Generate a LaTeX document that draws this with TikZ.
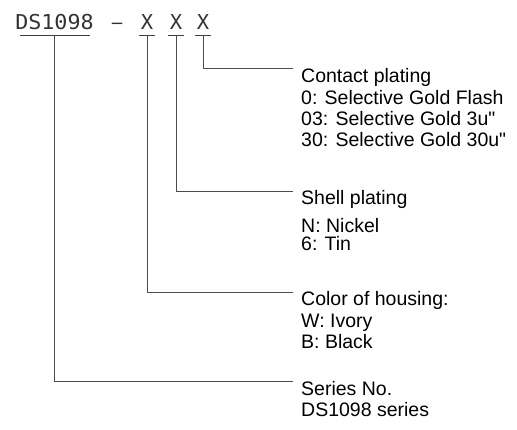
\documentclass[tikz,border=0pt]{standalone}
\usepackage{fontspec}
\setmainfont{Liberation Sans}[Ligatures=TeXOff]
\newfontfamily\monofnt{DejaVu Sans Mono}
\begin{document}
\begin{tikzpicture}[x=1pt,y=1pt,
  lbl/.style={anchor=base west,inner sep=0pt,font=\fontsize{19.5}{21}\selectfont,text=black},
  code/.style={anchor=base,inner sep=0pt,font=\monofnt\fontsize{20.5}{22}\selectfont,text=black!80},
  uline/.style={draw=black!75,line width=0.9pt},
  conn/.style={draw=black!70,line width=1pt}]
\useasboundingbox (0,0) rectangle (517,430);
% code
\node[code] (ds) at (54.5,400) {\scalebox{1.06}[1]{DS1098}};
\node[code] (dash) at (117,400) {\scalebox{0.85}[1]{\symbol{"2013}}};
\node[code] (x1) at (147,400) {X};
\node[code] (x2) at (176,400) {X};
\node[code] (x3) at (203,400) {X};
% underlines
\draw[uline] ([xshift=-35pt,yshift=-5pt]ds.base) -- ([xshift=35pt,yshift=-5pt]ds.base);
\draw[uline] ([xshift=-8pt,yshift=-5pt]x1.base) -- ([xshift=8pt,yshift=-5pt]x1.base);
\draw[uline] ([xshift=-8pt,yshift=-5pt]x2.base) -- ([xshift=8pt,yshift=-5pt]x2.base);
\draw[uline] ([xshift=-8pt,yshift=-5pt]x3.base) -- ([xshift=8pt,yshift=-5pt]x3.base);
% labels
\node[lbl] (cp) at (301,347.7) {Contact plating};
\node[lbl] (cp1) at (301,325.7) {0: Selective Gold Flash};
\node[lbl] (cp2) at (301,304.5) {03: Selective Gold 3u"};
\node[lbl] (cp3) at (301,283.3) {30: Selective Gold 30u"};
\node[lbl] (sp) at (301,225) {Shell plating};
\node[lbl] (sp1) at (301,197) {N: Nickel};
\node[lbl] (sp2) at (301,179) {6: Tin};
\node[lbl] (ch) at (301,124) {Color of housing:};
\node[lbl] (ch1) at (301,102.3) {W: Ivory};
\node[lbl] (ch2) at (301,81.7) {B: Black};
\node[lbl] (sn) at (301,34.3) {Series No.};
\node[lbl] (sn1) at (301,13.3) {DS1098 series};
% connector ends
\coordinate (e3) at (293,361);
\coordinate (e2) at (293,238.3);
\coordinate (e1) at (293,137.3);
\coordinate (e0) at (293,48.3);
\draw[conn] ([yshift=-5pt]x3.base) |- (e3);
\draw[conn] ([yshift=-5pt]x2.base) |- (e2);
\draw[conn] ([yshift=-5pt]x1.base) |- (e1);
\draw[conn] ([yshift=-5pt]ds.base) |- (e0);
\end{tikzpicture}
\end{document}
